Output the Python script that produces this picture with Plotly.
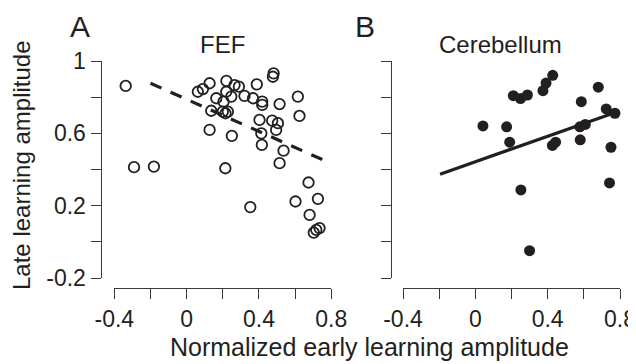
import plotly.graph_objects as go

# ---- data ----
fef_x = [-0.337, -0.291, -0.181, 0.062, 0.09, 0.127, 0.22, 0.265, 0.289, 0.219,
         0.164, 0.247, 0.204, 0.32, 0.367, 0.388, 0.481, 0.477, 0.418, 0.418,
         0.514, 0.615, 0.624, 0.136, 0.2, 0.228, 0.215, 0.127, 0.25, 0.403,
         0.473, 0.505, 0.495, 0.413, 0.416, 0.536, 0.514, 0.214, 0.674, 0.726,
         0.602, 0.352, 0.68, 0.735, 0.717, 0.703]
fef_y = [0.862, 0.413, 0.416, 0.83, 0.845, 0.877, 0.89, 0.867, 0.858, 0.83,
         0.794, 0.803, 0.775, 0.807, 0.794, 0.871, 0.932, 0.913, 0.775, 0.757,
         0.762, 0.803, 0.696, 0.725, 0.72, 0.72, 0.711, 0.619, 0.586, 0.674,
         0.67, 0.656, 0.619, 0.6, 0.536, 0.504, 0.435, 0.407, 0.328, 0.238,
         0.223, 0.192, 0.149, 0.076, 0.066, 0.051]
fef_fit_x = [-0.2, 0.795]
fef_fit_y = [0.877, 0.435]

cb_x = [0.042, 0.173, 0.19, 0.21, 0.25, 0.288, 0.374, 0.391, 0.428, 0.426,
        0.444, 0.252, 0.3, 0.586, 0.68, 0.58, 0.578, 0.608, 0.724, 0.772,
        0.75, 0.742]
cb_y = [0.641, 0.636, 0.551, 0.808, 0.792, 0.812, 0.836, 0.878, 0.921, 0.533,
        0.551, 0.287, -0.049, 0.775, 0.855, 0.564, 0.636, 0.649, 0.735, 0.711,
        0.523, 0.326]
cb_fit_x = [-0.195, 0.77]
cb_fit_y = [0.374, 0.714]

x_tickvals = [-0.4, -0.2, 0, 0.2, 0.4, 0.6, 0.8]
x_ticktext = ["-0.4", "", "0", "", "0.4", "", "0.8"]
y_tickvals = [-0.2, 0, 0.2, 0.4, 0.6, 0.8, 1.0]
y_ticktext = ["-0.2", "", "0.2", "", "0.6", "", "1"]

# The page body adds an 8px margin, so the figure is shrunk by that much
# and all reference pixel positions are shifted accordingly.
OFF = 8
W, H = 636 - OFF, 364 - OFF
def fx(px): return (px - OFF) / W
def fy(py): return 1 - (py - OFF) / H

INK = "#231f20"
AX = "#3a3a3a"
FONT = "Liberation Sans"

fig = go.Figure()
fig.add_trace(go.Scatter(x=fef_fit_x, y=fef_fit_y, mode="lines",
                         line=dict(color=INK, width=3.2, dash="12px,10px"),
                         xaxis="x", yaxis="y", cliponaxis=False, showlegend=False))
fig.add_trace(go.Scatter(x=fef_x, y=fef_y, mode="markers",
                         marker=dict(symbol="circle-open", size=10.5, color=INK,
                                     line=dict(width=1.8, color=INK)),
                         xaxis="x", yaxis="y", cliponaxis=False, showlegend=False))
fig.add_trace(go.Scatter(x=cb_fit_x, y=cb_fit_y, mode="lines",
                         line=dict(color=INK, width=3.2),
                         xaxis="x2", yaxis="y2", cliponaxis=False, showlegend=False))
fig.add_trace(go.Scatter(x=cb_x, y=cb_y, mode="markers",
                         marker=dict(symbol="circle", size=11, color=INK,
                                     line=dict(width=0)),
                         xaxis="x2", yaxis="y2", cliponaxis=False, showlegend=False))

axis_common = dict(showline=True, linecolor=AX, linewidth=1, ticks="outside",
                   ticklen=10, tickwidth=1, tickcolor=AX, showgrid=False,
                   zeroline=False, automargin=False,
                   tickfont=dict(family=FONT, size=23, color=INK))

y_top, y_bot = 61, 278
x_axis_py = 288.3

fig.update_layout(
    width=W, height=H,
    margin=dict(l=0, r=0, t=0, b=0, pad=0, autoexpand=False),
    paper_bgcolor="white", plot_bgcolor="white",
    xaxis=dict(domain=[fx(114.3), fx(331.3)], range=[-0.4, 0.8], anchor="free",
               position=fy(x_axis_py), tickvals=x_tickvals, ticktext=x_ticktext,
               **axis_common),
    yaxis=dict(domain=[fy(y_bot), fy(y_top)], range=[-0.2, 1.0], anchor="free",
               position=fx(100.5), tickvals=y_tickvals, ticktext=y_ticktext,
               **axis_common),
    xaxis2=dict(domain=[fx(403), fx(620)], range=[-0.4, 0.8], anchor="free",
                position=fy(x_axis_py), tickvals=x_tickvals, ticktext=x_ticktext,
                **axis_common),
    yaxis2=dict(domain=[fy(y_bot), fy(y_top)], range=[-0.2, 1.0], anchor="free",
                position=fx(390.7), tickvals=y_tickvals,
                ticktext=[""] * len(y_tickvals), **axis_common),
)

def ann(text, px, py, size, angle=0, yanchor="middle"):
    fig.add_annotation(text=text, x=fx(px), y=fy(py), xref="paper", yref="paper",
                       showarrow=False, xanchor="center", yanchor=yanchor,
                       textangle=angle, borderpad=0,
                       font=dict(family=FONT, size=size, color=INK))

ann("A", 80, 8.5, 30, yanchor="top")
ann("B", 365, 8.5, 30, yanchor="top")
ann("FEF", 222.5, 44, 24)
ann("Cerebellum", 500, 44, 24)
ann("Late learning amplitude", 21, 165, 24, angle=-90)
ann("Normalized early learning amplitude", 369, 347, 25)

fig.write_html("out.html")
